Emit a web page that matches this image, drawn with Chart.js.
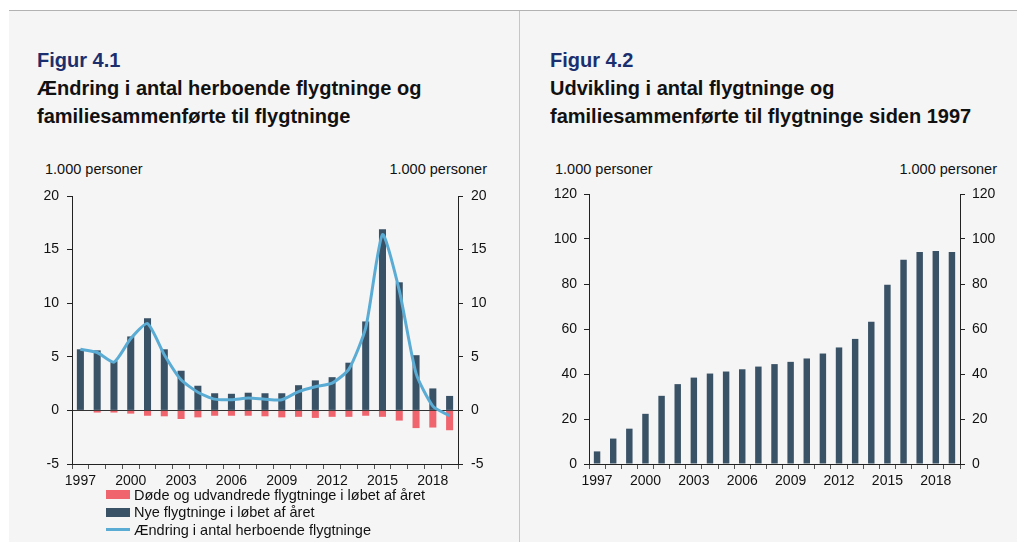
<!DOCTYPE html>
<html lang="da">
<head>
<meta charset="utf-8">
<title>Flygtninge og familiesammenførte</title>
<script src="https://cdn.jsdelivr.net/npm/chart.js@4/dist/chart.umd.min.js"></script>
<style>
  html, body { margin: 0; padding: 0; background: #ffffff; }
  body { width: 1017px; height: 542px; position: relative; overflow: hidden;
         font-family: "Liberation Sans", Arial, sans-serif; color: #111; }
  #panel { position: absolute; left: 9px; top: 10px; width: 1008px; height: 532px;
           background: #f5f5f5; border-top: 1px solid #b2b2b2; }
  #divider { position: absolute; left: 519px; top: 11px; width: 1px; height: 531px; background: #c6c6c6; }
  .head { position: absolute; font-weight: bold; font-size: 20px; line-height: 28px; white-space: nowrap; }
  .head .fig { color: #1b2f6e; }
  .unit { position: absolute; font-size: 14.5px; line-height: 17px; white-space: nowrap; top: 161px; }
  canvas { position: absolute; }
  #legend { position: absolute; left: 106px; top: 486px; font-size: 14.5px; }
  #legend .row { height: 17.5px; display: flex; align-items: center; white-space: nowrap; }
  #legend .mark { width: 24px; margin-right: 4px; }
</style>
</head>
<body>
<div id="panel"></div>
<div id="divider"></div>

<div class="head" style="left:37px; top:46px;"><span class="fig">Figur 4.1</span><br>Ændring i antal herboende flygtninge og<br>familiesammenførte til flygtninge</div>
<div class="head" style="left:550px; top:46px;"><span class="fig">Figur 4.2</span><br>Udvikling i antal flygtninge og<br>familiesammenførte til flygtninge siden 1997</div>

<div class="unit" style="left:45px;">1.000 personer</div>
<div class="unit" style="right:530px;">1.000 personer</div>
<div class="unit" style="left:555px;">1.000 personer</div>
<div class="unit" style="right:20px;">1.000 personer</div>

<canvas id="fig41" width="519" height="310" style="left:0; top:180px;"></canvas>
<canvas id="fig42" width="498" height="310" style="left:519px; top:180px;"></canvas>
<div id="legend"></div>

<script>
// År og viste årsetiketter på x-aksen
const aar = ['1997','1998','1999','2000','2001','2002','2003','2004','2005','2006','2007','2008',
             '2009','2010','2011','2012','2013','2014','2015','2016','2017','2018','2019'];
const aarEtiketter = ['1997','2000','2003','2006','2009','2012','2015','2018'];

// Figur 4.1 (1.000 personer)
const nyeFlygtninge = [5.7, 5.6, 4.6, 6.9, 8.6, 5.7, 3.7, 2.3, 1.6, 1.55, 1.65, 1.6,
                       1.6, 2.35, 2.8, 3.1, 4.45, 8.3, 16.9, 11.95, 5.15, 2.05, 1.35];
const doedeUdvandrede = [0, -0.2, -0.2, -0.3, -0.5, -0.55, -0.8, -0.65, -0.5, -0.5, -0.5, -0.55,
                         -0.65, -0.6, -0.7, -0.6, -0.6, -0.5, -0.6, -0.95, -1.65, -1.6, -1.85];
const aendringHerboende = [5.7, 5.4, 4.5, 6.7, 8.1, 5.2, 2.85, 1.7, 1.05, 1.0, 1.15, 1.05,
                           1.0, 1.75, 2.2, 2.55, 3.85, 7.7, 16.4, 11.2, 3.45, 0.4, -0.5];
const fig41Ticks = [-5, 0, 5, 10, 15, 20];

// Figur 4.2 (1.000 personer)
const bestand = [5.6, 11.3, 15.7, 22.3, 30.3, 35.5, 38.4, 40.2, 41.1, 42.1, 43.3, 44.4,
                 45.4, 46.9, 49.1, 51.8, 55.6, 63.2, 79.7, 90.8, 94.2, 94.7, 94.2];
const fig42Ticks = [0, 20, 40, 60, 80, 100, 120];

const MOERK = '#3a5266';
const ROED = '#f0646e';
const BLAA = '#5aacd4';
const AKSE = '#222222';

Chart.defaults.font.family = '"Liberation Sans", Arial, sans-serif';
Chart.defaults.font.size = 14;
Chart.defaults.color = '#111111';

function fixSize(prop, value) {
  return function (scale) {
    scale[prop] = value;
    scale.paddingTop = 0; scale.paddingBottom = 0;
    scale.paddingLeft = 0; scale.paddingRight = 0;
  };
}

function xAxis() {
  return {
    type: 'category',
    offset: true,
    grid: { display: true, offset: true, drawOnChartArea: false, drawTicks: true,
            tickLength: 5, tickColor: '#555555' },
    border: { display: true, color: AKSE, width: 1 },
    ticks: {
      autoSkip: false, maxRotation: 0, minRotation: 0, padding: 4,
      callback: function (v, i) { const l = this.getLabelForValue(v); return aarEtiketter.includes(l) ? l : ''; }
    },
    afterFit: fixSize('height', 26)
  };
}

function yAxis(pos, ticks, width, pad, zeroLine) {
  return {
    position: pos,
    min: ticks[0], max: ticks[ticks.length - 1],
    afterBuildTicks: s => { s.ticks = ticks.map(v => ({ value: v })); },
    grid: {
      drawOnChartArea: zeroLine,
      color: ctx => (zeroLine && ctx.tick && ctx.tick.value === 0) ? '#333333' : 'rgba(0,0,0,0)',
      tickColor: AKSE, tickLength: 5, drawTicks: true
    },
    border: { display: true, color: AKSE, width: 1 },
    ticks: { padding: pad },
    afterFit: fixSize('width', width)
  };
}

const fig41 = new Chart(document.getElementById('fig41'), {
  type: 'bar',
  data: {
    labels: aar,
    datasets: [
      { label: 'Døde og udvandrede flygtninge i løbet af året', data: doedeUdvandrede,
        backgroundColor: ROED, grouped: false, order: 2 },
      { label: 'Nye flygtninge i løbet af året', data: nyeFlygtninge,
        backgroundColor: MOERK, grouped: false, order: 1 },
      { type: 'line', label: 'Ændring i antal herboende flygtninge', data: aendringHerboende,
        borderColor: BLAA, backgroundColor: BLAA, borderWidth: 3, pointRadius: 0,
        tension: 0.2, fill: false, order: 0 }
    ]
  },
  options: {
    responsive: false, animation: false,
    layout: { padding: { top: 16, bottom: 0, left: 0, right: 0 } },
    datasets: { bar: { barPercentage: 0.42, categoryPercentage: 1 } },
    plugins: { legend: { display: false }, tooltip: { enabled: false } },
    scales: {
      x: xAxis(),
      y: yAxis('left', fig41Ticks, 72, 8, true),
      y2: yAxis('right', fig41Ticks, 61, 8, false)
    }
  }
});

new Chart(document.getElementById('fig42'), {
  type: 'bar',
  data: {
    labels: aar,
    datasets: [
      { label: 'Flygtninge og familiesammenførte', data: bestand, backgroundColor: MOERK }
    ]
  },
  options: {
    responsive: false, animation: false,
    layout: { padding: { top: 14, bottom: 0, left: 0, right: 0 } },
    datasets: { bar: { barPercentage: 0.4, categoryPercentage: 1 } },
    plugins: { legend: { display: false }, tooltip: { enabled: false } },
    scales: {
      x: xAxis(),
      y: yAxis('left', fig42Ticks, 70, 7, false),
      y2: yAxis('right', fig42Ticks, 57, 7, false)
    }
  }
});

// Forklaring til figur 4.1, bygget ud fra datasættene
const legend = document.getElementById('legend');
fig41.data.datasets.forEach(ds => {
  const row = document.createElement('div');
  row.className = 'row';
  const mark = document.createElement('span');
  mark.className = 'mark';
  if (ds.type === 'line') {
    mark.style.height = '3px';
    mark.style.background = ds.borderColor;
  } else {
    mark.style.height = '9px';
    mark.style.background = ds.backgroundColor;
  }
  const txt = document.createElement('span');
  txt.textContent = ds.label;
  row.appendChild(mark);
  row.appendChild(txt);
  legend.appendChild(row);
});
</script>
</body>
</html>
